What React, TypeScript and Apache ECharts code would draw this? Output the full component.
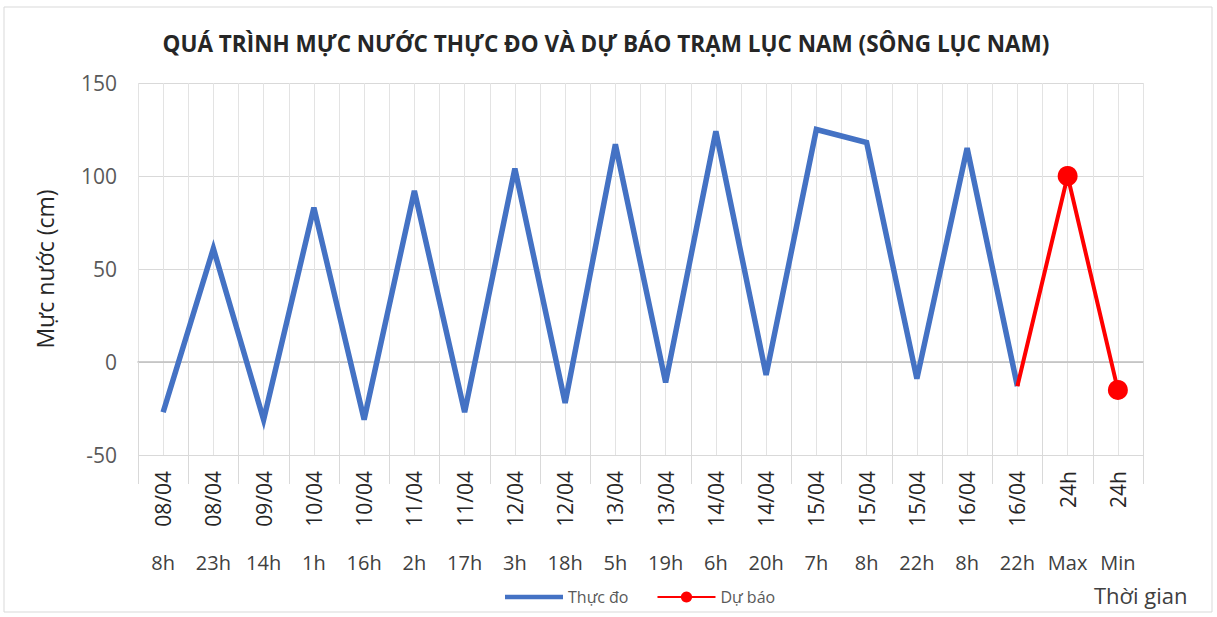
import React, { useEffect, useRef } from "react";
import * as echarts from "echarts";

const dates = ["08/04", "08/04", "09/04", "10/04", "10/04", "11/04", "11/04", "12/04", "12/04", "13/04", "13/04", "14/04", "14/04", "15/04", "15/04", "15/04", "16/04", "16/04", "24h", "24h"];
const hours = ["8h", "23h", "14h", "1h", "16h", "2h", "17h", "3h", "18h", "5h", "19h", "6h", "20h", "7h", "8h", "22h", "8h", "22h", "Max", "Min"];
const observed: (number | null)[] = [-27, 61, -31, 83, -31, 92, -27, 104, -22, 117, -11, 124, -7, 125, 118, -9, 115, -13, null, null];
const forecast: (number | null)[] = [null, null, null, null, null, null, null, null, null, null, null, null, null, null, null, null, null, -13, 100, -15];
const yTicks = [-50, 0, 50, 100, 150];

const FONT = "'Open Sans', 'Noto Sans', sans-serif";

export default function App() {
  const ref = useRef<HTMLDivElement>(null);
  useEffect(() => {
    document.body.style.margin = "0";
    const chart = echarts.init(ref.current!, null, { renderer: "svg" });
    const n = dates.length;
    chart.setOption({
      animation: false,
      backgroundColor: "#ffffff",
      textStyle: { fontFamily: FONT },
      title: {
        text: "QUÁ TRÌNH MỰC NƯỚC THỰC ĐO VÀ DỰ BÁO TRẠM LỤC NAM (SÔNG LỤC NAM)",
        left: 601,
        textAlign: "center",
        top: 27,
        textStyle: { fontFamily: FONT, fontSize: 22.5, fontWeight: "bold", color: "#262626" },
      },
      legend: {
        bottom: 7,
        left: 500,
        itemWidth: 58,
        itemHeight: 14,
        itemGap: 28,
        textStyle: { fontFamily: FONT, fontSize: 16, color: "#595959" },
        data: [
          { name: "Thực đo", icon: "path://M0,4.8 L58,4.8 L58,9.2 L0,9.2 Z", itemStyle: { color: "#4472C4" } },
          { name: "Dự báo" },
        ],
      },
      grid: { left: 138, right: 74, top: 83, bottom: 162, containLabel: false },
      xAxis: [
        {
          type: "category",
          data: dates,
          position: "bottom",
          boundaryGap: true,
          axisLine: { show: true, lineStyle: { color: "#BFBFBF", width: 1.5 } },
          axisTick: { show: true, length: 122, lineStyle: { color: "#D9D9D9" } },
          axisLabel: { rotate: 90, interval: 0, margin: 16, fontSize: 21, color: "#262626", fontFamily: FONT },
          splitLine: { show: false },
        },
        {
          type: "category",
          data: hours,
          position: "bottom",
          boundaryGap: true,
          axisLine: { show: false },
          axisTick: { show: false },
          axisLabel: { interval: 0, margin: 97, fontSize: 20, color: "#404040", fontFamily: FONT },
          splitLine: { show: false },
        },
        {
          type: "value",
          min: 0,
          max: n * 2,
          interval: 1,
          show: true,
          position: "top",
          axisLine: { show: false },
          axisTick: { show: false },
          axisLabel: { show: false },
          splitLine: { show: true, lineStyle: { color: "#E3E3E3", width: 1 } },
        },
      ],
      yAxis: {
        type: "value",
        min: -50,
        max: 150,
        interval: 50,
        name: "Mực nước (cm)",
        nameLocation: "middle",
        nameGap: 82,
        nameTextStyle: { fontFamily: FONT, fontSize: 23, color: "#262626" },
        axisLine: { show: false },
        axisTick: { show: false },
        axisLabel: {
          margin: 21,
          fontSize: 21,
          color: "#595959",
          fontFamily: FONT,
          formatter: (v: number) => (yTicks.includes(v) ? String(v) : ""),
        },
        splitLine: { show: true, lineStyle: { color: "#D9D9D9", width: 1 } },
      },
      series: [
        {
          name: "Thực đo",
          type: "line",
          xAxisIndex: 0,
          data: observed,
          showSymbol: false,
          symbol: "none",
          lineStyle: { color: "#4472C4", width: 5.5, join: "miter" },
          itemStyle: { color: "#4472C4" },
          z: 3,
        },
        {
          name: "Dự báo",
          type: "line",
          xAxisIndex: 0,
          data: forecast.map((v, i) => ({
            value: v,
            symbolSize: i === 17 ? 0 : 20,
          })),
          symbol: "circle",
          symbolSize: 9,
          showSymbol: true,
          lineStyle: { color: "#FF0000", width: 4 },
          itemStyle: { color: "#FF0000" },
          z: 4,
        },
      ],
      graphic: [
        {
          type: "rect",
          shape: { x: 4, y: 7, width: 1208, height: 605 },
          style: { fill: "none", stroke: "#D9D9D9", lineWidth: 1 },
          silent: true,
        },
        {
          type: "text",
          x: 1094,
          y: 584,
          style: { text: "Thời gian", fontFamily: FONT, fontSize: 22, fill: "#404040" },
        },
      ],
    });
    return () => chart.dispose();
  }, []);
  return <div ref={ref} style={{ width: 1217, height: 617, position: "absolute", left: 0, top: 0 }} />;
}
